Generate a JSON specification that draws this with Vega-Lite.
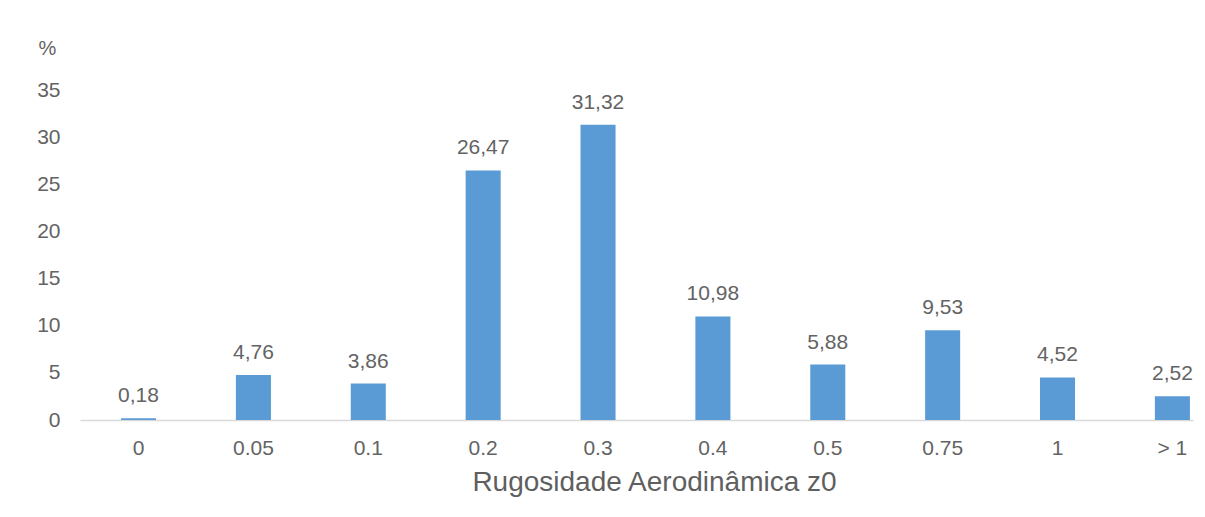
{
  "$schema": "https://vega.github.io/schema/vega-lite/v6.json",
  "width": 1113,
  "height": 330,
  "autosize": {"type": "none"},
  "padding": {"left": 80, "top": 90, "right": 12, "bottom": 97},
  "background": "white",
  "config": {
    "view": {"stroke": null},
    "locale": {"number": {"decimal": ",", "thousands": ".", "grouping": [3], "currency": ["", ""]}},
    "font": "Liberation Sans"
  },
  "data": {
    "values": [
      {"z0": "0", "pct": 0.18},
      {"z0": "0.05", "pct": 4.76},
      {"z0": "0.1", "pct": 3.86},
      {"z0": "0.2", "pct": 26.47},
      {"z0": "0.3", "pct": 31.32},
      {"z0": "0.4", "pct": 10.98},
      {"z0": "0.5", "pct": 5.88},
      {"z0": "0.75", "pct": 9.53},
      {"z0": "1", "pct": 4.52},
      {"z0": "> 1", "pct": 2.52}
    ]
  },
  "encoding": {
    "x": {
      "field": "z0",
      "type": "nominal",
      "sort": null,
      "scale": {"paddingInner": 0.695, "paddingOuter": 0.192, "align": 0.93},
      "axis": {
        "title": "Rugosidade Aerodinâmica z0",
        "titleFont": "Liberation Sans",
        "titleFontSize": 28,
        "titleFontWeight": "normal",
        "titleColor": "#5f5f5f",
        "titlePadding": 10,
        "titleX": 574,
        "labelAngle": 0,
        "labelFontSize": 21,
        "labelColor": "#636363",
        "labelPadding": 17,
        "ticks": false,
        "domainColor": "#d9d9d9",
        "domainWidth": 1.5,
        "grid": false
      }
    },
    "y": {
      "field": "pct",
      "type": "quantitative",
      "scale": {"domain": [0, 35], "nice": false},
      "axis": {
        "title": "%",
        "titleAngle": 0,
        "titleFontSize": 20,
        "titleFontWeight": "normal",
        "titleColor": "#636363",
        "titleAnchor": "end",
        "titleAlign": "center",
        "titleBaseline": "middle",
        "titleX": -33,
        "titleY": -42,
        "values": [0, 5, 10, 15, 20, 25, 30, 35],
        "labelFontSize": 21,
        "labelColor": "#636363",
        "labelPadding": 20,
        "ticks": false,
        "domain": false,
        "grid": false
      }
    }
  },
  "layer": [
    {"mark": {"type": "bar", "color": "#5B9BD5"}},
    {
      "mark": {"type": "text", "baseline": "bottom", "dy": -12, "fontSize": 21, "color": "#636363"},
      "encoding": {"text": {"field": "pct", "type": "quantitative", "format": ".2f"}}
    }
  ]
}
